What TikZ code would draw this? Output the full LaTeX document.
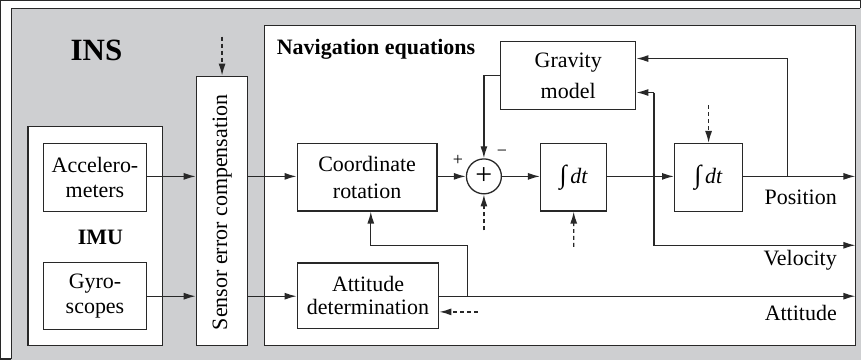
\documentclass[tikz,border=0pt]{standalone}
\usepackage{fontspec}
\setmainfont{Liberation Serif}
\usetikzlibrary{arrows.meta}
\definecolor{bggray}{RGB}{206,207,209}
\definecolor{ink}{RGB}{40,40,40}
\newcommand{\integdt}{{\fontsize{26}{26}\selectfont\itshape ∫}\,\textit{dt}}
\tikzset{
  every path/.style={line width=1.3pt, draw=ink},
  arr/.style={-{Latex[length=12pt,width=7pt]}},
  dsh/.style={dash pattern=on 4pt off 3pt},
  blk/.style={draw=ink, line width=1.3pt, fill=white, inner sep=0pt, align=center,
              font=\fontsize{22}{25}\selectfont},
  lbl/.style={inner sep=0pt, font=\fontsize{22}{25}\selectfont},
}
\begin{document}
\begin{tikzpicture}[x=1pt,y=-1pt]
\useasboundingbox (0,0) rectangle (861,359);
% background
\fill[bggray] (11,8) rectangle (861,359);
\draw (11,359) -- (11,8) -- (861,8);
\node[lbl, font=\fontsize{31}{33}\selectfont\bfseries] (ins) at (96,50) {INS};
% IMU
\node[blk, minimum width=134.5pt, minimum height=219.7pt] (imu) at (94.75,235.85) {};
\node[blk, minimum width=103pt, minimum height=68pt] (acc) at (94.5,177) {Accelero-\\meters};
\node[blk, minimum width=103pt, minimum height=67pt] (gyro) at (94.5,295.5) {Gyro-\\scopes};
\node[lbl, font=\fontsize{22}{25}\selectfont\bfseries] (imul) at (100,237) {IMU};
% sensor error compensation
\node[blk, minimum width=51.5pt, minimum height=270pt] (sens) at (221.75,210.7) {};
\node[lbl, rotate=90] (senst) at (221.75,212) {Sensor error compensation};
% navigation box
\node[blk, minimum width=592pt, minimum height=320.6pt] (nav) at (560,185.3) {};
\node[lbl, anchor=west, font=\fontsize{22}{25}\selectfont\bfseries] (navl) at (276,49) {Navigation equations};
\node[blk, minimum width=135.3pt, minimum height=68pt, font=\fontsize{22}{31}\selectfont] (grav) at (568.4,75) {Gravity\\model};
\node[blk, minimum width=140pt, minimum height=67.3pt, font=\fontsize{22}{27}\selectfont] (coord) at (367,177) {Coordinate\\rotation};
\node[blk, minimum width=141.7pt, minimum height=65.6pt, font=\fontsize{22}{23}\selectfont] (att) at (367.9,295.5) {Attitude\\determination};
\node[blk, circle, minimum size=35pt] (sum) at (484,176) {};
\node[lbl, font=\fontsize{30}{30}\selectfont] (sumt) at (484,176) {+};
\node[blk, minimum width=66.3pt, minimum height=67.3pt] (int1) at (573.9,177) {\integdt};
\node[blk, minimum width=68pt, minimum height=67.7pt] (int2) at (709,177) {\integdt};
\node[lbl, font=\fontsize{18}{18}\selectfont] (plus) at (458,160) {+};
\node[lbl, font=\fontsize{18}{18}\selectfont] (minus) at (502,153) {\textminus};
\node[lbl, anchor=east] (pos) at (838,197) {Position};
\node[lbl, anchor=east] (vel) at (838,260) {Velocity};
\node[lbl, anchor=east] (attl) at (838,313) {Attitude};
% coordinates
\coordinate (posEnd) at (856,176);
\coordinate (velEnd) at (856,245);
\coordinate (attEnd) at (856,296);
\coordinate (vtop) at (654.3,92);
\coordinate (vmid) at (654.3,176);
\coordinate (vbot) at (654.3,245);
\coordinate (ptop) at (787.7,58);
\coordinate (pbot) at (787.7,176);
\coordinate (abr) at (467.3,296);
\coordinate (abr2) at (467.3,245);
\coordinate (abr3) at (370.7,245);
\coordinate (sensIn) at (221.75,36);
\coordinate (sumIn) at (484,230);
\coordinate (int1In) at (574,246.7);
\coordinate (int2In) at (709,105);
\coordinate (attIn) at (478,311.7);
\coordinate (gmid) at (484,75);
% connectors
\draw[arr] (acc.east |- 0,176) -- (sens.west |- 0,176);
\draw[arr] (gyro.east |- 0,296) -- (sens.west |- 0,296);
\draw[arr] (sens.east |- 0,176) -- (coord.west |- 0,176);
\draw[arr] (sens.east |- 0,296) -- (att.west |- 0,296);
\draw[arr] (coord.east |- 0,176) -- (sum.west);
\draw[arr] (sum.east) -- (int1.west |- 0,176);
\draw[arr] (int1.east |- 0,176) -- (int2.west |- 0,176);
\draw[arr] (int2.east |- 0,176) -- (posEnd);
\draw[arr] (grav.west) -- (gmid) -- (sum.north);
\draw[arr] (vtop) -- (vbot) -- (velEnd);
\draw[arr] (vtop) -- (vtop -| grav.east);
\draw[arr] (pbot) -- (ptop) -- (ptop -| grav.east);
\draw[arr] (att.east |- 0,296) -- (attEnd);
\draw[arr] (abr) -- (abr2) -- (abr3) -- (abr3 |- coord.south);
\draw[arr, dsh] (sensIn) -- (sens.north);
\draw[arr, dsh] (sumIn) -- (sum.south);
\draw[arr, dsh] (int1In) -- (int1.south);
\draw[arr, dsh] (int2In) -- (int2.north);
\draw[arr, dsh] (attIn) -- (att.east |- attIn);
\end{tikzpicture}
\end{document}
